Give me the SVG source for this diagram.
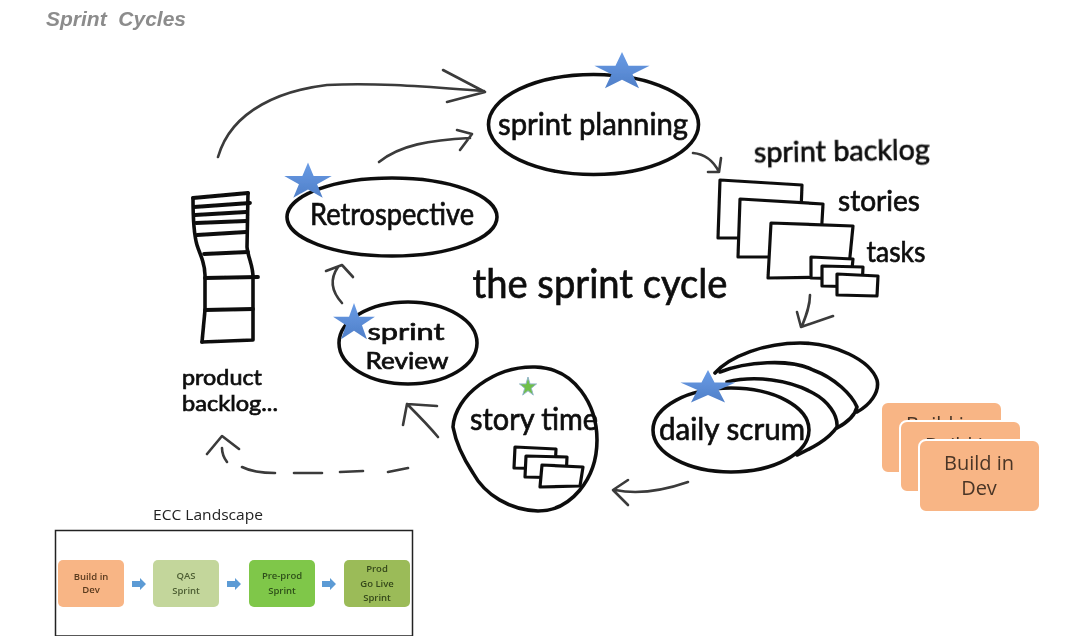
<svg xmlns="http://www.w3.org/2000/svg" width="1073" height="639" viewBox="0 0 1073 639">
<style>
.ink{fill:none;stroke:#111;stroke-width:3.6;stroke-linecap:round;stroke-linejoin:round}
.oval{fill:#fff;stroke:#111;stroke-width:3.6}
.card{fill:#fff;stroke:#111;stroke-width:3.2;stroke-linejoin:round}
.bar{fill:none;stroke:#111;stroke-width:3.8;stroke-linecap:round}
.con{fill:none;stroke:#3a3a3a;stroke-width:2.6;stroke-linecap:round;stroke-linejoin:round}
.hand{font-family:"Lato","Open Sans",sans-serif;fill:#111;stroke:#111;stroke-width:.7;text-anchor:middle}
.big{fill:#f8b585;stroke:#fff;stroke-width:2}
.bigt{font-family:"Open Sans","Liberation Sans",sans-serif;font-size:20px;fill:#4a3526;text-anchor:middle}
.mini{font-family:"Open Sans","Liberation Sans",sans-serif;font-size:9.500px;font-weight:600;text-anchor:middle}
.blk{fill:#5b9bd5}
</style>
<defs>
<linearGradient id="sg" x1="0" y1="0" x2="0" y2="1"><stop offset="0" stop-color="#6a9ce6"/><stop offset="1" stop-color="#4f7fc8"/></linearGradient>
<filter id="soft" x="0" y="0" width="100%" height="100%"><feGaussianBlur stdDeviation="0.4"/></filter>
<polygon id="star" points="0,-1 .225,-.309 .951,-.309 .363,.118 .588,.809 0,.382 -.588,.809 -.363,.118 -.951,-.309 -.225,-.309"/>
</defs>
<rect width="1073" height="639" fill="#fff"/>
<g filter="url(#soft)">
<text x="46" y="26" font-family="Liberation Sans, sans-serif" font-size="21" font-weight="700" font-style="italic" fill="#8c8c8c" xml:space="preserve">Sprint  Cycles</text>

<g id="connectors">
<path class="con" d="M218 157C232 108 285 90 327 85C380 82 440 88 484 91M443 70L485 92L447 102"/>
<path class="con" d="M379 162C400 145 430 140 470 138M457 130L472 134L460 150"/>
<path class="con" d="M342 303C332 292 329 280 338 267M326 271L342 265L353 277"/>
<path class="con" d="M438 437C428 425 417 414 407 404M437 406L407 404L403 425"/>
<path class="con" d="M408 468L388 472M363 471L340 472M322 473L294 473M275 473C262 473 250 471 242 467M227 462C224 458 222 453 222 448M207 454L222 436L239 449"/>
<path class="con" d="M688 482C665 490 640 495 615 490M628 480L613 490L628 505"/>
<path class="con" d="M693 153C705 154 714 162 719 172M708 172L719 172L721 158"/>
<path class="con" d="M810 295C810 306 806 316 802 326M797 312L801 327L833 316"/>
</g>

<g id="product-backlog">
<path class="ink" d="M193 198C193 220 194 235 197 245C200 255 205 262 205 275L205 310L202 342"/>
<path class="ink" d="M248 193L247 247C248 258 253 265 253 277L253 340L202 342"/>
<path class="bar" d="M193 198L248 193M194 207L250 203M195 215L246 212M196 223L246 221M197 235L246 232M204 254L248 252M205 278L258 277M205 310L253 309"/>
<text class="hand" x="222" y="385" font-size="22" textLength="80" lengthAdjust="spacingAndGlyphs">product</text>
<text class="hand" x="230" y="411" font-size="22" textLength="96" lengthAdjust="spacingAndGlyphs">backlog...</text>
</g>

<g id="sprint-planning">
<ellipse class="oval" cx="593.500" cy="124.500" rx="105" ry="50"/>
<text class="hand" x="593" y="135" font-size="31" textLength="190" lengthAdjust="spacingAndGlyphs">sprint planning</text>
<use href="#star" transform="translate(622 72) scale(29 20)" fill="url(#sg)"/>
</g>

<g id="retrospective">
<ellipse class="oval" cx="392" cy="217" rx="105" ry="39"/>
<text class="hand" x="392" y="225" font-size="30" textLength="164" lengthAdjust="spacingAndGlyphs">Retrospective</text>
<use href="#star" transform="translate(308 182) scale(25 19.5)" fill="url(#sg)"/>
</g>

<g id="sprint-review">
<ellipse class="oval" cx="408" cy="343" rx="69" ry="41"/>
<text class="hand" x="406" y="340" font-size="23" textLength="77" lengthAdjust="spacingAndGlyphs">sprint</text>
<text class="hand" x="407" y="369" font-size="23" textLength="83" lengthAdjust="spacingAndGlyphs">Review</text>
<use href="#star" transform="translate(354 323) scale(22 20)" fill="url(#sg)"/>
</g>

<g id="story-time">
<path class="oval" d="M453 427C455 395 495 366 535 367C575 368 597 405 597 440C597 480 570 511 538 511C510 510 485 495 473 473C463 458 456 443 453 427Z"/>
<text class="hand" x="534" y="430" font-size="30" textLength="128" lengthAdjust="spacingAndGlyphs">story time</text>
<polygon class="card" points="515,447 556,449 555,469 514,468"/>
<polygon class="card" points="526,456 567,457 566,478 525,477"/>
<polygon class="card" points="542,465 583,467 580,486 540,487"/>
<use href="#star" transform="translate(528 387) scale(9 10)" fill="#6fbf4a" stroke="#8fb3c8" stroke-width=".1"/>
</g>

<g id="daily-scrum">
<path class="ink" d="M715 373C730 356 765 343 800 343C835 343 870 360 877 380C880 392 870 405 857 412"/>
<path class="ink" d="M720 372C745 362 790 358 813 370C835 378 852 395 857 407C855 416 846 423 837 428"/>
<path class="ink" d="M727 382C755 375 790 380 813 393C828 401 838 415 837 427C828 440 812 448 797 455"/>
<ellipse class="oval" cx="731" cy="430" rx="78" ry="42"/>
<text class="hand" x="732" y="440" font-size="31" textLength="146" lengthAdjust="spacingAndGlyphs">daily scrum</text>
<use href="#star" transform="translate(708 388) scale(29 18)" fill="url(#sg)"/>
</g>

<g id="sprint-backlog">
<text class="hand" x="842" y="161" font-size="29" textLength="176" lengthAdjust="spacingAndGlyphs" transform="rotate(-1 842 161)">sprint backlog</text>
<text class="hand" x="879" y="211" font-size="29" textLength="82" lengthAdjust="spacingAndGlyphs">stories</text>
<text class="hand" x="896" y="262" font-size="29" textLength="59" lengthAdjust="spacingAndGlyphs">tasks</text>
<polygon class="card" points="720,180 802,185 800,238 718,238"/>
<polygon class="card" points="740,199 823,204 820,257 738,257"/>
<polygon class="card" points="771,223 853,226 848,277 768,278"/>
<polygon class="card" points="811,257 853,259 851,279 811,278"/>
<polygon class="card" points="822,266 863,267 862,287 822,286"/>
<polygon class="card" points="837,274 878,276 877,296 837,295"/>
</g>

<g id="sprint-cycle-title">
<text class="hand" x="600" y="298" font-size="40" textLength="255" lengthAdjust="spacingAndGlyphs">the sprint cycle</text>
</g>

<g id="build-stack">
<rect class="big" x="881" y="402" width="121" height="71" rx="7"/>
<text class="bigt" x="941" y="431">Build in</text>
<rect class="big" x="900" y="421" width="121" height="71" rx="7"/>
<text class="bigt" x="960" y="452">Build in</text>
<rect class="big" x="919" y="440" width="121" height="72" rx="7"/>
<text class="bigt" x="979" y="470">Build in</text>
<text class="bigt" x="979" y="495">Dev</text>
</g>

<g id="ecc-landscape">
<text x="208" y="520" font-family="Open Sans, sans-serif" font-size="14" fill="#222" text-anchor="middle" textLength="110" lengthAdjust="spacingAndGlyphs">ECC Landscape</text>
<rect x="55.500" y="530.500" width="357" height="105.500" fill="#fff" stroke="#222" stroke-width="1.500"/>
<rect x="58" y="560" width="66" height="47" rx="5" fill="#f8b585"/>
<text class="mini" x="91" y="580" fill="#5a3a1e">Build in</text>
<text class="mini" x="91" y="593" fill="#5a3a1e">Dev</text>
<rect x="153" y="560" width="66" height="47" rx="5" fill="#c3d69b"/>
<text class="mini" x="186" y="579" fill="#4d5e33">QAS</text>
<text class="mini" x="186" y="594" fill="#4d5e33">Sprint</text>
<rect x="249" y="560" width="66" height="47" rx="5" fill="#7fc748"/>
<text class="mini" x="282" y="579" fill="#2e4f1a">Pre-prod</text>
<text class="mini" x="282" y="594" fill="#2e4f1a">Sprint</text>
<rect x="344" y="560" width="66" height="47" rx="5" fill="#9bbb59"/>
<text class="mini" x="377" y="572" fill="#35481a">Prod</text>
<text class="mini" x="377" y="587" fill="#35481a">Go Live</text>
<text class="mini" x="377" y="601" fill="#35481a">Sprint</text>
<polygon class="blk" points="132,581 140,581 140,578 146,584 140,590 140,587 132,587"/>
<polygon class="blk" points="227,581 235,581 235,578 241,584 235,590 235,587 227,587"/>
<polygon class="blk" points="322,581 330,581 330,578 336,584 330,590 330,587 322,587"/>
</g>
</g>
</svg>
